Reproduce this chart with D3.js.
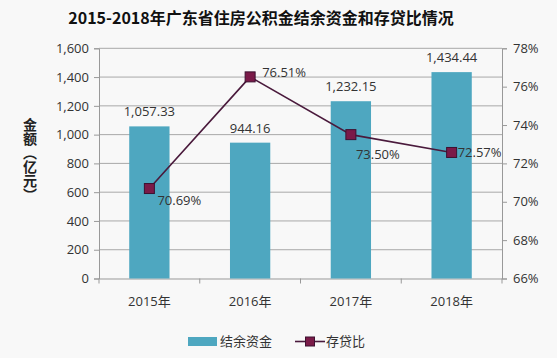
<!DOCTYPE html>
<html><head><meta charset="utf-8">
<script src="https://cdn.jsdelivr.net/npm/d3@7"></script>
<style>
html,body{margin:0;padding:0;background:#f8f8f8;}
svg{display:block;}
text{font-family:"Open Sans","Noto Sans CJK SC",sans-serif;fill:#333;}
</style></head><body>
<svg id="c" width="557" height="358"></svg>
<script>
const categories = ["2015年","2016年","2017年","2018年"];
const balance = [1057.33, 944.16, 1232.15, 1434.44];
const ratio = [70.69, 76.51, 73.50, 72.57];
const leftTicks = [0,200,400,600,800,1000,1200,1400,1600];
const rightTicks = [66,68,70,72,74,76,78];
const seriesNames = ["结余资金","存贷比"];
const title = "2015-2018年广东省住房公积金结余资金和存贷比情况";
const yTitle = "金额（亿元）";

const svg = d3.select("#c");
const m = {l:99, r:502, t:48.3, b:278.5};
const barColor = "#4ea7c0", lineColor = "#4a1a3c", markColor = "#7a1a48";
const x = d3.scaleBand().domain(categories).range([m.l, m.r]).padding(0);
const yL = d3.scaleLinear().domain([0,1600]).range([m.b, m.t]);
const yR = d3.scaleLinear().domain([66,78]).range([m.b, m.t]);
const fmt = d3.format(",.2f");
const cjk = '"Noto Sans CJK SC",sans-serif';

svg.append("rect").attr("width",557).attr("height",358).attr("fill","#f8f8f8");

// title
svg.append("text").attr("x",261).attr("y",24).attr("text-anchor","middle")
  .style("font-family",cjk).style("font-size","16px").style("font-weight","bold").style("fill","#111")
  .text(title);

// gridlines
svg.append("g").selectAll("line").data(leftTicks.slice(1)).join("line")
  .attr("x1",m.l).attr("x2",m.r).attr("y1",d=>yL(d)).attr("y2",d=>yL(d))
  .attr("stroke","#a8a8a8").attr("stroke-width",1);

// left axis
const gL = svg.append("g").attr("transform",`translate(${m.l},0)`)
  .call(d3.axisLeft(yL).tickValues(leftTicks).tickFormat(d3.format(",")).tickSize(5).tickPadding(5));
// right axis
const gR = svg.append("g").attr("transform",`translate(${m.r},0)`)
  .call(d3.axisRight(yR).tickValues(rightTicks).tickFormat(d=>d+"%").tickSize(5).tickPadding(6));
// bottom axis
const gB = svg.append("g").attr("transform",`translate(0,${m.b})`)
  .call(d3.axisBottom(x).tickSize(0).tickPadding(18));
gB.append("g").selectAll("line").data(d3.range(categories.length+1)).join("line")
  .attr("x1",i=>m.l+i*x.step()).attr("x2",i=>m.l+i*x.step()).attr("y1",0).attr("y2",5)
  .attr("stroke","#999");
[gL,gR,gB].forEach(g=>{
  g.select(".domain").attr("stroke","#999");
  g.selectAll(".tick line").attr("stroke","#999");
  g.selectAll("text").style("font-size","13px").style("fill","#333");
});
gB.selectAll("text").style("font-family","'Open Sans','Noto Sans CJK SC',sans-serif");

// y title (vertical)
svg.append("text").attr("x",30).attr("y",160)
  .attr("text-anchor","middle")
  .style("writing-mode","vertical-rl")
  .style("font-family",cjk).style("font-size","14px").style("font-weight","bold").style("fill","#222")
  .text(yTitle);

// bars
const bw = x.step()*0.4;
svg.append("g").selectAll("rect").data(balance).join("rect")
  .attr("x",(d,i)=>x(categories[i])+x.bandwidth()/2-bw/2).attr("width",bw)
  .attr("y",d=>yL(d)).attr("height",d=>m.b-yL(d)).attr("fill",barColor);
svg.append("g").selectAll("text").data(balance).join("text")
  .attr("x",(d,i)=>x(categories[i])+x.bandwidth()/2).attr("y",d=>yL(d)-10)
  .attr("text-anchor","middle").style("font-size","13px").style("fill","#333")
  .text(d=>fmt(d));

// line
const cx = i=>x(categories[i])+x.bandwidth()/2;
svg.append("path").datum(ratio)
  .attr("d",d3.line().x((d,i)=>cx(i)).y(d=>yR(d)))
  .attr("fill","none").attr("stroke",lineColor).attr("stroke-width",1.6);
svg.append("g").selectAll("rect").data(ratio).join("rect")
  .attr("x",(d,i)=>cx(i)-5).attr("y",d=>yR(d)-5).attr("width",10).attr("height",10)
  .attr("fill",markColor).attr("stroke","#3d1030").attr("stroke-width",1);
const off = [[8,12],[12,-4],[5,20],[6,0]];
svg.append("g").selectAll("text").data(ratio).join("text")
  .attr("x",(d,i)=>cx(i)+off[i][0]).attr("y",(d,i)=>yR(d)+off[i][1])
  .attr("dy","0.35em").style("font-size","13px").style("fill","#333")
  .text(d=>d.toFixed(2)+"%");

// legend
const lg = svg.append("g");
lg.append("rect").attr("x",188).attr("y",337).attr("width",29).attr("height",9).attr("fill",barColor);
lg.append("text").attr("x",220).attr("y",341.5).attr("dy","0.35em")
  .style("font-family",cjk).style("font-size","13px").text(seriesNames[0]);
lg.append("line").attr("x1",295).attr("x2",325).attr("y1",341.5).attr("y2",341.5)
  .attr("stroke",lineColor).attr("stroke-width",1.6);
lg.append("rect").attr("x",305.5).attr("y",337).attr("width",9).attr("height",9)
  .attr("fill",markColor).attr("stroke","#3d1030");
lg.append("text").attr("x",326).attr("y",341.5).attr("dy","0.35em")
  .style("font-family",cjk).style("font-size","13px").text(seriesNames[1]);
</script>
</body></html>
